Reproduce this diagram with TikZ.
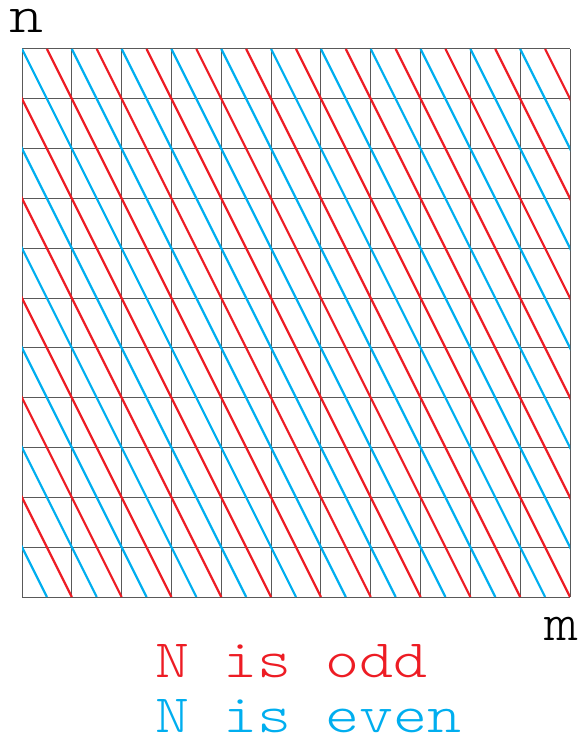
\documentclass[tikz,border=0pt]{standalone}
\usepackage{fontspec}
\newfontfamily\lbtt[FakeStretch=1.2]{Latin Modern Mono Light}
\definecolor{oddred}{RGB}{237,28,36}
\definecolor{evenblue}{RGB}{0,174,239}
\begin{document}
\begin{tikzpicture}[x=49.82pt,y=49.82pt,
  lbl/.style={font=\fontsize{54}{54}\selectfont\lbtt, inner sep=0pt, anchor=base},
  gridline/.style={draw=black!65, line width=1pt},
  diag/.style={line width=2.2pt}]
\useasboundingbox (-22pt,-145pt) rectangle (562pt,597pt);
\draw[gridline, step=49.82pt] (0,0) grid (11,11);
\begin{scope}
  \clip (0,0) rectangle (11,11);
  \foreach \c in {1,...,32}{
    \ifodd\c \def\col{evenblue}\else \def\col{oddred}\fi
    \draw[diag,\col] ({\c/2},0) -- ({(\c-11)/2},11);
  }
\end{scope}
\node[lbl] (n) at (5pt,564pt) {n};
\node[lbl] (m) at (540pt,-43pt) {m};
\node[lbl, anchor=base west, text=oddred] (odd) at (133pt,-80pt) {N is odd};
\node[lbl, anchor=base west, text=evenblue] (even) at (133pt,-135pt) {N is even};
\end{tikzpicture}
\end{document}
